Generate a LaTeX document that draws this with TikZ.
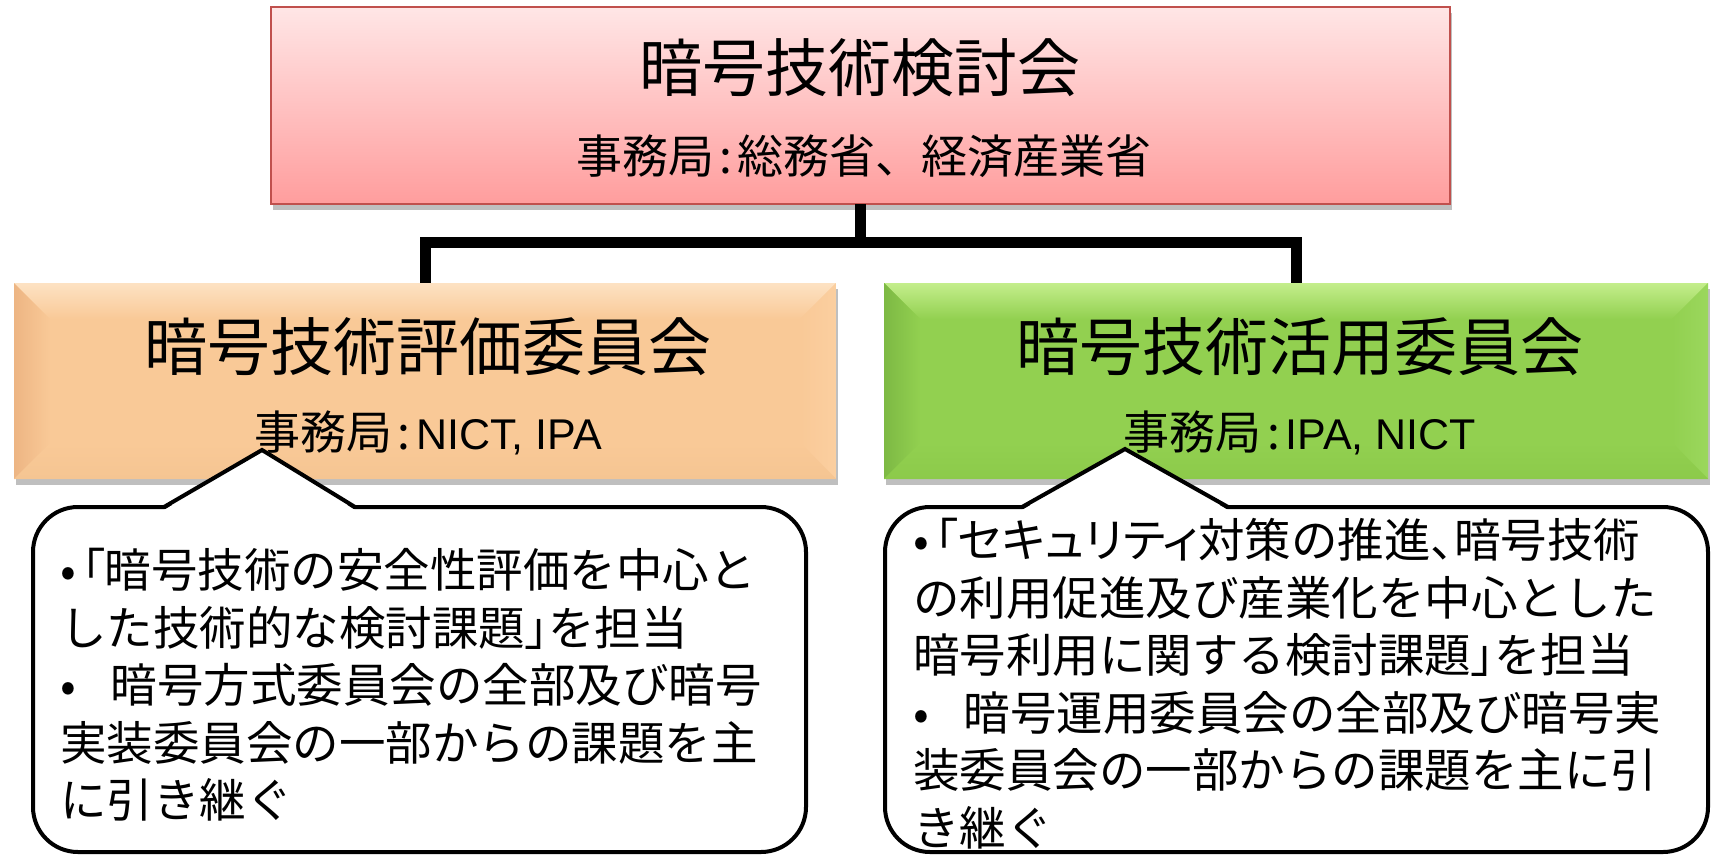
\documentclass[tikz,border=0pt]{standalone}
\usepackage{fontspec}
\setmainfont{Noto Sans CJK JP}
\newfontfamily\jpp[RawFeature=+palt]{Noto Sans CJK JP}
\newfontfamily\lat{Liberation Sans}
\usetikzlibrary{shadows,calc}
\definecolor{topA}{HTML}{FFE6E6}
\definecolor{topB}{HTML}{FF9D9D}
\definecolor{topBorder}{HTML}{C0504D}
\definecolor{orgMain}{HTML}{F9C997}
\definecolor{orgTop}{HTML}{FDE2C3}
\definecolor{orgLeft}{HTML}{EDB583}
\definecolor{orgRight}{HTML}{FBCFA0}
\definecolor{orgBot}{HTML}{F5C592}
\definecolor{grnMain}{HTML}{92D050}
\definecolor{grnTop}{HTML}{C4EE8C}
\definecolor{grnLeft}{HTML}{7DB944}
\definecolor{grnRight}{HTML}{9BD75D}
\definecolor{grnBot}{HTML}{8CCA4A}
\newcommand{\lkak}{\hspace{0.12em}{\jpp 「}}
\newcommand{\rkak}{{\jpp 」}}
\newcommand{\jtoten}{{\jpp 、}}
\newcommand{\jcolon}{\hspace{0.12em}:\hspace{0.12em}}
\newcommand{\bevelbox}[6]{%
  \shade[top color=#2, bottom color=#3] (#1.north west) -- (#1.north east) -- ($(#1.north east)+(-36,36)$) -- ($(#1.north west)+(36,36)$) -- cycle;
  \shade[left color=#4, right color=#3] (#1.north west) -- ($(#1.north west)+(36,36)$) -- ($(#1.south west)+(36,-36)$) -- (#1.south west) -- cycle;
  \shade[left color=#3, right color=#5] (#1.north east) -- ($(#1.north east)+(-36,36)$) -- ($(#1.south east)+(-36,-36)$) -- (#1.south east) -- cycle;
  \shade[top color=#3, bottom color=#6] (#1.south west) -- ($(#1.south west)+(36,-36)$) -- ($(#1.south east)+(-36,-36)$) -- (#1.south east) -- cycle;
  \fill[#3] ($(#1.north west)+(35.5,35.5)$) rectangle ($(#1.south east)+(-35.5,-35.5)$);
}
\tikzset{
  boxshadow/.style={drop shadow={shadow xshift=2pt, shadow yshift=-6pt, opacity=0.25, fill=black}},
  topbox/.style={draw=topBorder, line width=1.5pt, top color=topA, bottom color=topB, boxshadow, outer sep=0pt, inner sep=0pt},
  flatbox/.style={outer sep=0pt, inner sep=0pt, boxshadow},
  bigtitle/.style={inner sep=0pt, font=\fontsize{63}{70}\selectfont},
  subtitle/.style={inner sep=0pt, font=\fontsize{46}{52}\selectfont},
  callout/.style={draw=black, line width=4pt, fill=white, rounded corners=45pt, inner sep=0pt, outer sep=0pt},
  ctext/.style={inner sep=0pt, align=left, anchor=north west, font=\fontsize{46.5}{57.5}\selectfont},
  conn/.style={line width=11pt, draw=black},
  pointer/.style={draw=black, line width=4pt, line join=miter},
}
\begin{document}
\begin{tikzpicture}[x=1pt,y=-1pt]
\useasboundingbox (0,0) rectangle (1712,854);
\fill[white] (0,0) rectangle (1712,854);

% top box
\node[topbox, minimum width=1179pt, minimum height=197pt] (top) at (860.5,105.5) {};
\node[bigtitle] (toptitle) at (860,68) {暗号技術検討会};
\node[subtitle] (topsub) at (864,156) {事務局\jcolon 総務省、経済産業省};

% left box
\node[flatbox, fill=orgMain, minimum width=822pt, minimum height=196pt] (left) at (425,381) {};
\bevelbox{left}{orgTop}{orgMain}{orgLeft}{orgRight}{orgBot}
\node[bigtitle] (ltitle) at (428,347) {暗号技術評価委員会};
\node[subtitle] (lsub) at (428,433) {事務局\jcolon{\lat\fontsize{43}{50}\selectfont NICT, IPA}};

% right box
\node[flatbox, fill=grnMain, minimum width=824pt, minimum height=196pt] (right) at (1296,381) {};
\bevelbox{right}{grnTop}{grnMain}{grnLeft}{grnRight}{grnBot}
\node[bigtitle] (rtitle) at (1300,347) {暗号技術活用委員会};
\node[subtitle] (rsub) at (1300,433) {事務局\jcolon{\lat\fontsize{43}{50}\selectfont IPA, NICT}};

% connectors
\draw[conn] (top.south) -- ++(0,38) coordinate (j) -| (left.north);
\draw[conn] (j) -| (right.north);

% left callout
\node[callout, minimum width=773pt, minimum height=345pt] (lc) at (419.5,679.5) {};
\fill[white] (164,510) -- (262,450) -- (355,510) -- cycle;
\draw[pointer] (164,507) -- (262,450) -- (355,507);
\node[ctext] (lct) at (60,548) {•\lkak 暗号技術の安全性評価を中心と\\
した技術的な検討課題\rkak を担当\\
•\hspace{0.75em}暗号方式委員会の全部及び暗号\\
実装委員会の一部からの課題を主\\
に引き継ぐ};

% right callout
\node[callout, minimum width=823pt, minimum height=345pt] (rc) at (1296.5,679.5) {};
\fill[white] (1022,510) -- (1125,449) -- (1228,510) -- cycle;
\draw[pointer] (1022,507) -- (1125,449) -- (1228,507);
\node[ctext] (rct) at (913,518) {•\lkak{\jpp セキュリティ}対策の推進\jtoten 暗号技術\\
の利用促進及び産業化を中心とした\\
暗号利用に関する検討課題\rkak を担当\\
•\hspace{0.75em}暗号運用委員会の全部及び暗号実\\
装委員会の一部からの課題を主に引\\
き継ぐ};
\end{tikzpicture}
\end{document}
